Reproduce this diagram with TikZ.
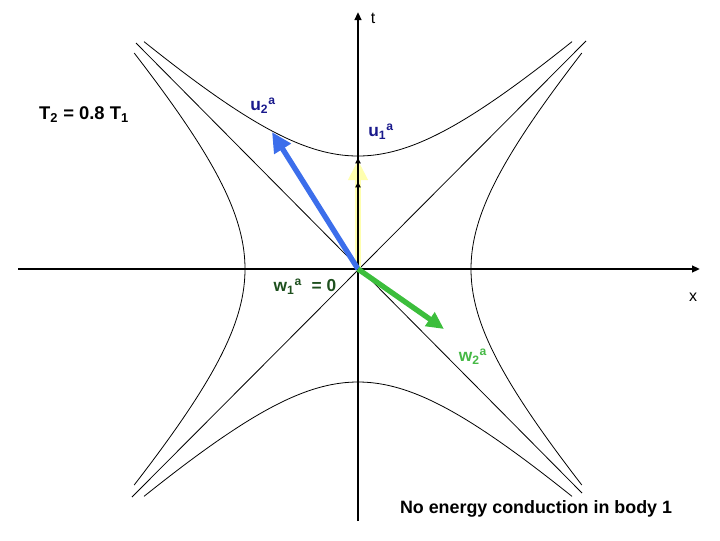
\documentclass[tikz,border=0pt]{standalone}
\usepackage{fontspec}
\setmainfont{Liberation Sans}
\usetikzlibrary{arrows.meta}
\definecolor{vecblue}{RGB}{60,110,235}
\definecolor{vecgreen}{RGB}{60,190,60}
\definecolor{vecyellow}{RGB}{255,255,175}
\definecolor{lblblue}{RGB}{25,25,140}
\definecolor{lblgreen}{RGB}{30,80,30}
\definecolor{lblltgreen}{RGB}{70,185,70}
\tikzset{
    axis/.style={line width=1.8pt, -{Triangle[length=6pt,width=5pt]}},
    hyp/.style={line width=0.6pt},
    cone/.style={line width=0.6pt},
    vec/.style={line width=4pt, -{Triangle[length=15pt,width=14pt]}},
    smalltip/.style={line width=0.8pt, -{Triangle[length=4pt,width=4pt]}},
    lbl/.style={font=\bfseries\fontsize{13}{15}\selectfont, inner sep=0pt},
    axlbl/.style={font=\fontsize{12}{14}\selectfont, inner sep=0pt}
}

\begin{document}
\begin{tikzpicture}[x=0.75pt, y=-0.75pt]
        \useasboundingbox (0,0) rectangle (720,540);
        % axes and origin
        \coordinate (O) at (358,269);
        \coordinate (tB) at (358,521);
        \coordinate (tT) at (358,12);
        \coordinate (xL) at (18,269);
        \coordinate (xR) at (700,269);
        % light cone ends
        \coordinate (c1) at (136,43);
        \coordinate (c2) at (582,493);
        \coordinate (c3) at (586,41);
        \coordinate (c4) at (132,497);
        % vector tips
        \coordinate (u2) at (272,132);
        \coordinate (w2) at (444,329);
        \coordinate (u1) at (358,160);
        \coordinate (u1b) at (358,158);
        \coordinate (u1c) at (358,182);

        % hyperbolas
        \draw[hyp] plot[domain=-214:214, samples=80, smooth]
                ({358+\x}, {269-100*sqrt(1.2769+0.85*(\x/100)^2)});
        \draw[hyp] plot[domain=-214:214, samples=80, smooth]
                ({358+\x}, {269+100*sqrt(1.2769+0.85*(\x/100)^2)});
        \draw[hyp] plot[domain=-216:216, samples=80, smooth]
                ({358-100*sqrt(1.2769+0.8*(\x/100)^2)}, {269+\x});
        \draw[hyp] plot[domain=-216:216, samples=80, smooth]
                ({358+100*sqrt(1.2769+0.8*(\x/100)^2)}, {269+\x});

        \draw[cone] (c1) -- (c2);
        \draw[cone] (c3) -- (c4);

        \draw[vec, vecyellow, line width=5pt] (O) -- (u1);
        \draw[axis] (xL) -- (xR);
        \draw[axis] (tB) -- (tT);
        \draw[smalltip] (O) -- (u1b);
        \draw[smalltip] (O) -- (u1c);
        \draw[vec, vecblue] (O) -- (u2);
        \draw[vec, vecgreen, -{Triangle[length=13pt,width=12pt]}] (O) -- (w2);

        % labels
        \node (tl) [axlbl] at (373,18) {t};
        \node (xl) [axlbl] at (693,297) {x};
        \node (u2l) [lbl, lblblue] at (263,106) {u\textsubscript{2}\textsuperscript{a}};
        \node (u1l) [lbl, lblblue] at (381,132) {u\textsubscript{1}\textsuperscript{a}};
        \node (w1l) [lbl, lblgreen] at (305,287) {w\textsubscript{1}\textsuperscript{a}\ \ = 0};
        \node (w2l) [lbl, lblltgreen] at (473,357) {w\textsubscript{2}\textsuperscript{a}};
        \node (temp) [lbl, font=\bfseries\fontsize{13.8}{15}\selectfont] at (84,115) {T\textsubscript{2} = 0.8 T\textsubscript{1}};
        \node (note) [lbl, font=\bfseries\fontsize{13.4}{15}\selectfont] at (536,509) {No energy conduction in body 1};
\end{tikzpicture}
\end{document}
